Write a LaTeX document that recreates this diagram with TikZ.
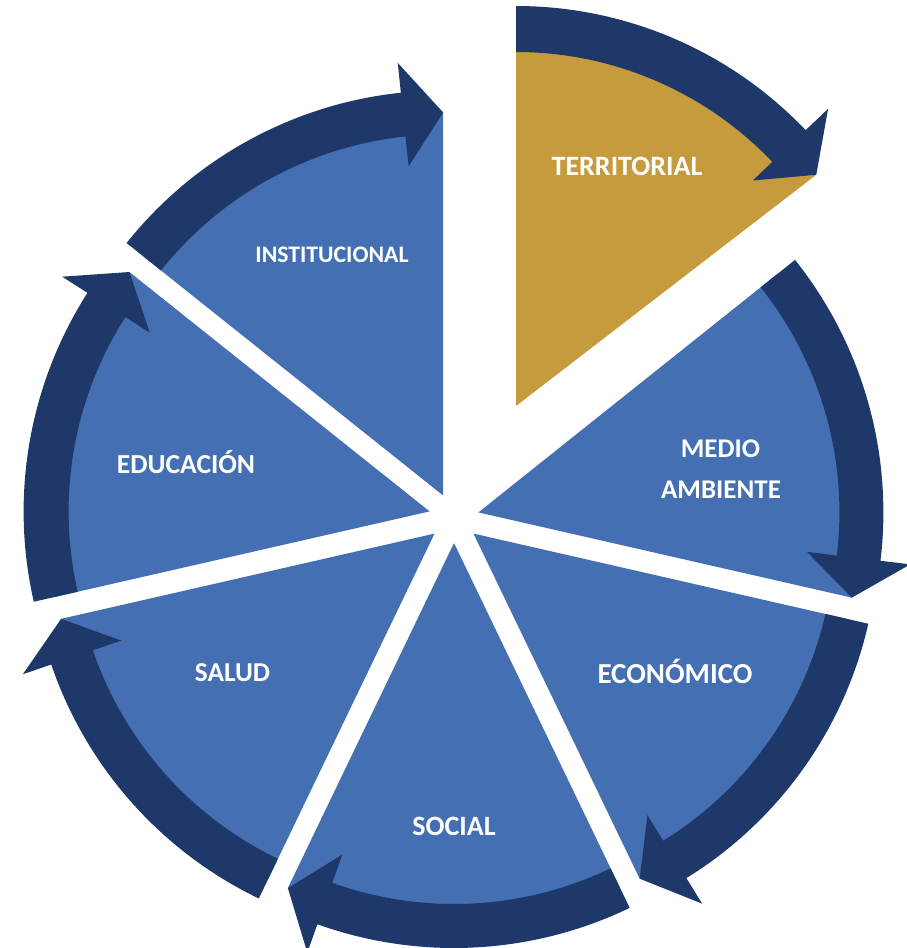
\documentclass[tikz,border=0pt]{standalone}
\usepackage{fontspec}
\setmainfont{Carlito}
\definecolor{sliceblue}{HTML}{4470B3}
\definecolor{arrowdark}{HTML}{1F386A}
\definecolor{slicegold}{HTML}{C59B3D}
\newcommand{\pieseg}[8]{%
  \begin{scope}[shift={(#1,-#2)}]
    \fill[#8] (0,0) -- ({#3}:{#5}) arc[start angle={#3}, end angle={#4}, radius={#5}] -- cycle;
    \fill[arrowdark] ({#3}:{#7}) arc[start angle={#3}, end angle={#4+6}, radius={#7}]
      -- ({#4+6}:{#5+52}) -- ({#4}:{#5}) -- ({#4+6}:{#5-52})
      -- ({#4+6}:{#6}) arc[start angle={#4+6}, end angle={#3}, radius={#6}] -- cycle;
  \end{scope}}
\begin{document}
\begin{tikzpicture}[x=1pt, y=1pt,
  lbl/.style={text=white, font=\bfseries, inner sep=0pt, anchor=base, align=center}]
\useasboundingbox (0,0) rectangle (906,-948);
% blue segments (exploded pie) with their arc arrows
\pieseg{443.2}{495.5}{141.43}{90}{383}{361}{405}{sliceblue}
\pieseg{429.6}{511.4}{192.86}{141.43}{384}{361}{406}{sliceblue}
\pieseg{434.5}{533.6}{244.29}{192.86}{383}{361}{405}{sliceblue}
\pieseg{454}{543}{295.71}{244.29}{383}{361}{405}{sliceblue}
\pieseg{473.5}{533.6}{347.14}{295.71}{383}{361}{405}{sliceblue}
\pieseg{478.4}{512.4}{38.57}{-12.86}{383}{361}{405}{sliceblue}
% highlighted segment
\pieseg{516}{406}{90}{37.6}{379}{354}{400}{slicegold}
% labels
\node[lbl, font=\bfseries\fontsize{28}{34}\selectfont] (territorial) at (627,-175) {TERRITORIAL};
\node[lbl, font=\bfseries\fontsize{23.7}{28}\selectfont] (institucional) at (332,-262) {INSTITUCIONAL};
\node[lbl, font=\bfseries\fontsize{27}{32}\selectfont] (medio) at (720.5,-457) {MEDIO};
\node[lbl, font=\bfseries\fontsize{27}{32}\selectfont] (ambiente) at (721,-498) {AMBIENTE};
\node[lbl, font=\bfseries\fontsize{27.5}{33}\selectfont] (educacion) at (186,-473) {EDUCACIÓN};
\node[lbl, font=\bfseries\fontsize{27.3}{33}\selectfont] (salud) at (232.5,-681) {SALUD};
\node[lbl, font=\bfseries\fontsize{28}{33}\selectfont] (social) at (454,-835) {SOCIAL};
\node[lbl, font=\bfseries\fontsize{29}{35}\selectfont] (economico) at (675,-683) {ECONÓMICO};
\end{tikzpicture}
\end{document}
